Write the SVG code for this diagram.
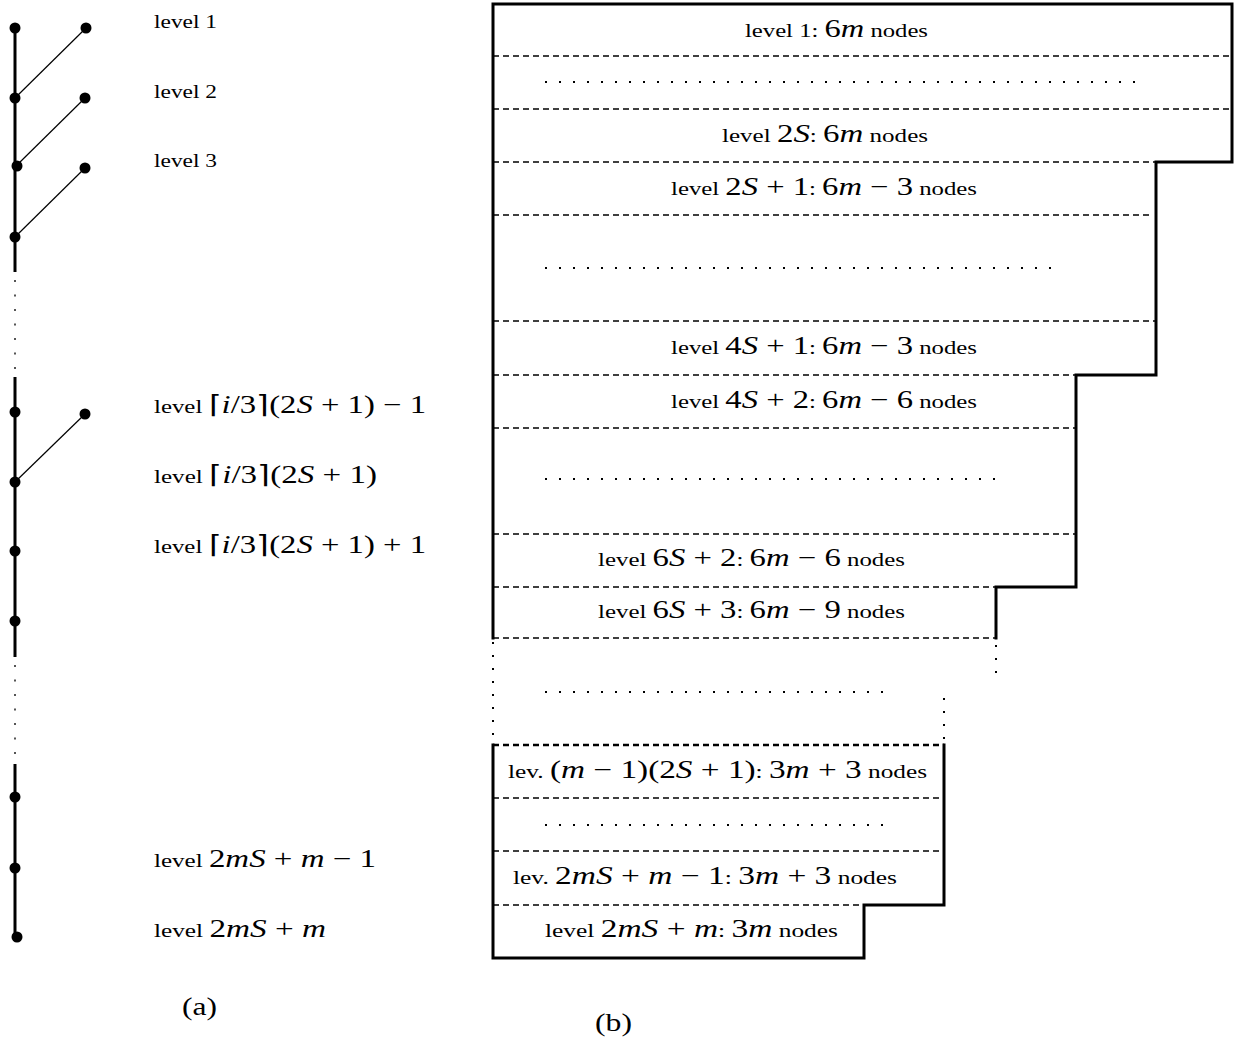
<svg xmlns="http://www.w3.org/2000/svg" width="1236" height="1045" viewBox="0 0 1236 1045">
<style>
text{font-family:"Liberation Serif","Times New Roman",serif;fill:#000}
.s{font-size:19px}
.b{font-size:25px}
.i{font-style:italic}
.thick{stroke:#000;stroke-width:3;fill:none;stroke-linecap:square}
.thin{stroke:#000;stroke-width:1.2;fill:none}
.dash{stroke:#000;stroke-width:1.4;stroke-dasharray:6 4;fill:none}
.dots{stroke:#000;stroke-width:2;stroke-dasharray:2 12}
.vdots{stroke:#555;stroke-width:2;stroke-dasharray:2 12.5;fill:none}
.bdots{stroke:#000;stroke-width:2;stroke-dasharray:2 11;fill:none}
.dot{fill:#000}
</style>
<defs>
<circle id="d" r="5.5" class="dot"/>
</defs>
<g id="connectors">
<line class="thick" x1="15" y1="28" x2="15" y2="272" style="stroke-linecap:butt"/>
<line class="vdots" x1="15" y1="280" x2="15" y2="370"/>
<line class="thick" x1="15" y1="377" x2="15" y2="657" style="stroke-linecap:butt"/>
<line class="vdots" x1="15" y1="665" x2="15" y2="755"/>
<line class="thick" x1="15" y1="764" x2="15" y2="937" style="stroke-linecap:butt"/>
<line class="thin" x1="15" y1="98" x2="86" y2="28"/>
<line class="thin" x1="16" y1="166" x2="85" y2="98"/>
<line class="thin" x1="15" y1="237" x2="85" y2="168"/>
<line class="thin" x1="15" y1="482" x2="85" y2="414"/>
</g>
<g id="tree-nodes">
<use href="#d" x="15" y="28"/>
<use href="#d" x="86" y="28"/>
<use href="#d" x="15" y="98"/>
<use href="#d" x="85" y="98"/>
<use href="#d" x="17" y="166"/>
<use href="#d" x="85" y="168"/>
<use href="#d" x="15" y="237"/>
<use href="#d" x="15" y="412"/>
<use href="#d" x="85" y="414"/>
<use href="#d" x="15" y="482"/>
<use href="#d" x="15" y="551"/>
<use href="#d" x="15" y="621"/>
<use href="#d" x="15" y="797"/>
<use href="#d" x="15" y="868"/>
<use href="#d" x="17" y="937"/>
</g>
<g id="left-labels">
<text class="s" x="154" y="28" textLength="63" lengthAdjust="spacingAndGlyphs">level 1</text>
<text class="s" x="154" y="98" textLength="63" lengthAdjust="spacingAndGlyphs">level 2</text>
<text class="s" x="154" y="167" textLength="63" lengthAdjust="spacingAndGlyphs">level 3</text>
<text x="154" y="413" textLength="272" lengthAdjust="spacingAndGlyphs"><tspan class="s">level </tspan><tspan class="b">⌈<tspan class="i">i</tspan>/3⌉(2<tspan class="i">S</tspan> + 1) − 1</tspan></text>
<text x="154" y="483" textLength="223" lengthAdjust="spacingAndGlyphs"><tspan class="s">level </tspan><tspan class="b">⌈<tspan class="i">i</tspan>/3⌉(2<tspan class="i">S</tspan> + 1)</tspan></text>
<text x="154" y="553" textLength="272" lengthAdjust="spacingAndGlyphs"><tspan class="s">level </tspan><tspan class="b">⌈<tspan class="i">i</tspan>/3⌉(2<tspan class="i">S</tspan> + 1) + 1</tspan></text>
<text x="154" y="867" textLength="222" lengthAdjust="spacingAndGlyphs"><tspan class="s">level </tspan><tspan class="b">2<tspan class="i">mS</tspan> + <tspan class="i">m</tspan> − 1</tspan></text>
<text x="154" y="937" textLength="172" lengthAdjust="spacingAndGlyphs"><tspan class="s">level </tspan><tspan class="b">2<tspan class="i">mS</tspan> + <tspan class="i">m</tspan></tspan></text>
<text class="b" x="182" y="1015" textLength="35" lengthAdjust="spacingAndGlyphs">(a)</text>
</g>
<g id="levels-outline">
<path class="thick" d="M493,638 V4 H1232 V162 H1156 V375 H1076 V587 H996 V638"/>
<path class="thick" d="M944,745 V905 H864 V958 H493 V745"/>
<line class="dash" x1="493" y1="745" x2="944" y2="745" style="stroke-width:2.6"/>
<line class="bdots" x1="493" y1="642" x2="493" y2="740"/>
<line class="bdots" x1="996" y1="645" x2="996" y2="678"/>
<line class="bdots" x1="944" y1="698" x2="944" y2="740"/>
</g>
<g id="level-separators">
<line class="dash" x1="493" y1="56" x2="1232" y2="56"/>
<line class="dash" x1="493" y1="109" x2="1232" y2="109"/>
<line class="dash" x1="493" y1="162" x2="1156" y2="162"/>
<line class="dash" x1="493" y1="215" x2="1150" y2="215"/>
<line class="dash" x1="493" y1="321" x2="1156" y2="321"/>
<line class="dash" x1="493" y1="375" x2="1076" y2="375"/>
<line class="dash" x1="493" y1="428" x2="1076" y2="428"/>
<line class="dash" x1="493" y1="534" x2="1076" y2="534"/>
<line class="dash" x1="493" y1="587" x2="996" y2="587"/>
<line class="dash" x1="493" y1="638" x2="996" y2="638"/>
<line class="dash" x1="493" y1="798" x2="940" y2="798"/>
<line class="dash" x1="493" y1="851" x2="940" y2="851"/>
<line class="dash" x1="493" y1="905" x2="864" y2="905"/>
</g>
<g id="level-dots">
<line class="dots" x1="545" y1="82" x2="1135" y2="82"/>
<line class="dots" x1="545" y1="268" x2="1052" y2="268"/>
<line class="dots" x1="545" y1="479" x2="1000" y2="479"/>
<line class="dots" x1="545" y1="692" x2="895" y2="692"/>
<line class="dots" x1="545" y1="825" x2="895" y2="825"/>
</g>
<g id="level-labels">
<text x="745" y="37" textLength="183" lengthAdjust="spacingAndGlyphs"><tspan class="s">level 1: </tspan><tspan class="b">6<tspan class="i">m</tspan></tspan><tspan class="s"> nodes</tspan></text>
<text x="722" y="142" textLength="206" lengthAdjust="spacingAndGlyphs"><tspan class="s">level </tspan><tspan class="b">2<tspan class="i">S</tspan></tspan><tspan class="s">: </tspan><tspan class="b">6<tspan class="i">m</tspan></tspan><tspan class="s"> nodes</tspan></text>
<text x="671" y="195" textLength="306" lengthAdjust="spacingAndGlyphs"><tspan class="s">level </tspan><tspan class="b">2<tspan class="i">S</tspan> + 1</tspan><tspan class="s">: </tspan><tspan class="b">6<tspan class="i">m</tspan> − 3</tspan><tspan class="s"> nodes</tspan></text>
<text x="671" y="354" textLength="306" lengthAdjust="spacingAndGlyphs"><tspan class="s">level </tspan><tspan class="b">4<tspan class="i">S</tspan> + 1</tspan><tspan class="s">: </tspan><tspan class="b">6<tspan class="i">m</tspan> − 3</tspan><tspan class="s"> nodes</tspan></text>
<text x="671" y="408" textLength="306" lengthAdjust="spacingAndGlyphs"><tspan class="s">level </tspan><tspan class="b">4<tspan class="i">S</tspan> + 2</tspan><tspan class="s">: </tspan><tspan class="b">6<tspan class="i">m</tspan> − 6</tspan><tspan class="s"> nodes</tspan></text>
<text x="598" y="566" textLength="307" lengthAdjust="spacingAndGlyphs"><tspan class="s">level </tspan><tspan class="b">6<tspan class="i">S</tspan> + 2</tspan><tspan class="s">: </tspan><tspan class="b">6<tspan class="i">m</tspan> − 6</tspan><tspan class="s"> nodes</tspan></text>
<text x="598" y="618" textLength="307" lengthAdjust="spacingAndGlyphs"><tspan class="s">level </tspan><tspan class="b">6<tspan class="i">S</tspan> + 3</tspan><tspan class="s">: </tspan><tspan class="b">6<tspan class="i">m</tspan> − 9</tspan><tspan class="s"> nodes</tspan></text>
<text x="508" y="778" textLength="419" lengthAdjust="spacingAndGlyphs"><tspan class="s">lev. </tspan><tspan class="b">(<tspan class="i">m</tspan> − 1)(2<tspan class="i">S</tspan> + 1)</tspan><tspan class="s">: </tspan><tspan class="b">3<tspan class="i">m</tspan> + 3</tspan><tspan class="s"> nodes</tspan></text>
<text x="513" y="884" textLength="384" lengthAdjust="spacingAndGlyphs"><tspan class="s">lev. </tspan><tspan class="b">2<tspan class="i">mS</tspan> + <tspan class="i">m</tspan> − 1</tspan><tspan class="s">: </tspan><tspan class="b">3<tspan class="i">m</tspan> + 3</tspan><tspan class="s"> nodes</tspan></text>
<text x="545" y="937" textLength="293" lengthAdjust="spacingAndGlyphs"><tspan class="s">level </tspan><tspan class="b">2<tspan class="i">mS</tspan> + <tspan class="i">m</tspan></tspan><tspan class="s">: </tspan><tspan class="b">3<tspan class="i">m</tspan></tspan><tspan class="s"> nodes</tspan></text>
<text class="b" x="595" y="1031" textLength="37" lengthAdjust="spacingAndGlyphs">(b)</text>
</g>
</svg>
